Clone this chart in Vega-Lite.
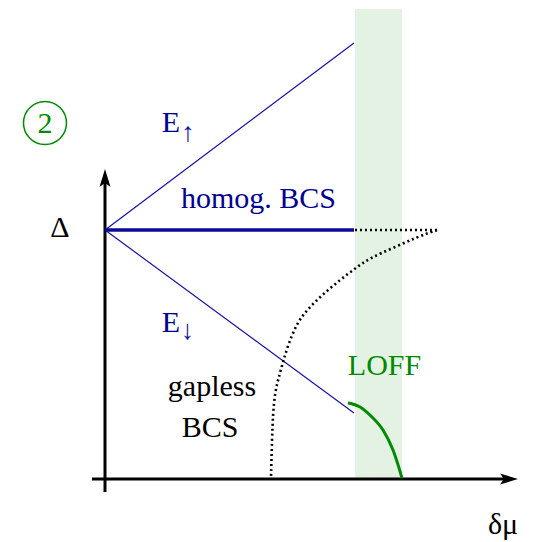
{
  "$schema": "https://vega.github.io/schema/vega-lite/v6.json",
  "width": 536,
  "height": 542,
  "autosize": {"type": "none"},
  "padding": 0,
  "background": "white",
  "config": {"view": {"stroke": null}},
  "datasets": {
    "band": [{"x": 250, "x2": 297, "y": 0, "y2": 470}],
    "lines": [
      {"s": "vaxis", "o": 0, "x": 0, "y": -13},
      {"s": "vaxis", "o": 1, "x": 0, "y": 302},
      {"s": "haxis", "o": 0, "x": -13, "y": 0},
      {"s": "haxis", "o": 1, "x": 405, "y": 0},
      {"s": "eup", "o": 0, "x": 0, "y": 249},
      {"s": "eup", "o": 1, "x": 249, "y": 436},
      {"s": "edn", "o": 0, "x": 0, "y": 249},
      {"s": "edn", "o": 1, "x": 249, "y": 66},
      {"s": "homog", "o": 0, "x": 0, "y": 249},
      {"s": "homog", "o": 1, "x": 249, "y": 249},
      {"s": "dot1", "o": 0, "x": 250, "y": 249},
      {"s": "dot1", "o": 1, "x": 332, "y": 249},
      {"s": "dot2", "o": 0, "x": 332, "y": 249},
      {"s": "dot2", "o": 1, "x": 312, "y": 242},
      {"s": "dot2", "o": 2, "x": 288, "y": 231},
      {"s": "dot2", "o": 3, "x": 265, "y": 221},
      {"s": "dot2", "o": 4, "x": 252, "y": 212},
      {"s": "dot2", "o": 5, "x": 235, "y": 199},
      {"s": "dot2", "o": 6, "x": 217, "y": 184},
      {"s": "dot2", "o": 7, "x": 202, "y": 169},
      {"s": "dot2", "o": 8, "x": 192, "y": 156},
      {"s": "dot2", "o": 9, "x": 183, "y": 134},
      {"s": "dot2", "o": 10, "x": 178, "y": 117},
      {"s": "dot2", "o": 11, "x": 173, "y": 99},
      {"s": "dot2", "o": 12, "x": 170, "y": 86},
      {"s": "dot2", "o": 13, "x": 168, "y": 66},
      {"s": "dot2", "o": 14, "x": 167, "y": 39},
      {"s": "dot2", "o": 15, "x": 166, "y": 2},
      {"s": "loff", "o": 0, "x": 243, "y": 76},
      {"s": "loff", "o": 1, "x": 255, "y": 72},
      {"s": "loff", "o": 2, "x": 268, "y": 61},
      {"s": "loff", "o": 3, "x": 278, "y": 49},
      {"s": "loff", "o": 4, "x": 288, "y": 29},
      {"s": "loff", "o": 5, "x": 297, "y": 1}
    ],
    "arrows": [{"x": 0, "y": 300, "a": 0}, {"x": 403, "y": 0, "a": 90}],
    "circle": [{"x": -60, "y": 356}],
    "greenText": [
      {"t": "2", "x": -60, "y": 346},
      {"t": "LOFF", "x": 279.5, "y": 104}
    ],
    "blueText": [
      {"t": "E", "x": 66, "y": 347},
      {"t": "homog. BCS", "x": 153.5, "y": 271},
      {"t": "E", "x": 66, "y": 147}
    ],
    "blueSub": [
      {"t": "↑", "x": 83, "y": 338},
      {"t": "↓", "x": 82.5, "y": 140}
    ],
    "blackCenter": [
      {"t": "Δ", "x": -45, "y": 242},
      {"t": "gapless", "x": 107, "y": 83},
      {"t": "BCS", "x": 105, "y": 42},
      {"t": "δμ", "x": 398, "y": -55}
    ]
  },
  "encoding": {
    "x": {"field": "x", "type": "quantitative", "scale": {"domain": [-105, 431], "nice": false, "zero": false}, "axis": null},
    "y": {"field": "y", "type": "quantitative", "scale": {"domain": [-63, 479], "nice": false, "zero": false}, "axis": null}
  },
  "layer": [
    {
      "data": {"name": "band"},
      "mark": {"type": "rect", "color": "#e3f2e2"},
      "encoding": {"x2": {"field": "x2"}, "y2": {"field": "y2"}}
    },
    {
      "data": {"name": "lines"},
      "transform": [{"filter": "datum.s === 'vaxis' || datum.s === 'haxis'"}],
      "mark": {"type": "line", "color": "black", "strokeWidth": 3},
      "encoding": {"detail": {"field": "s"}, "order": {"field": "o"}}
    },
    {
      "data": {"name": "lines"},
      "transform": [{"filter": "datum.s === 'eup' || datum.s === 'edn'"}],
      "mark": {"type": "line", "color": "#1414a0", "strokeWidth": 1.2},
      "encoding": {"detail": {"field": "s"}, "order": {"field": "o"}}
    },
    {
      "data": {"name": "lines"},
      "transform": [{"filter": "datum.s === 'homog'"}],
      "mark": {"type": "line", "color": "#0a0a96", "strokeWidth": 3.5},
      "encoding": {"detail": {"field": "s"}, "order": {"field": "o"}}
    },
    {
      "data": {"name": "lines"},
      "transform": [{"filter": "datum.s === 'dot1' || datum.s === 'dot2'"}],
      "mark": {"type": "line", "color": "black", "strokeWidth": 2.6, "strokeDash": [2, 3], "interpolate": "basis"},
      "encoding": {"detail": {"field": "s"}, "order": {"field": "o"}}
    },
    {
      "data": {"name": "lines"},
      "transform": [{"filter": "datum.s === 'loff'"}],
      "mark": {"type": "line", "color": "#008a00", "strokeWidth": 3, "interpolate": "cardinal"},
      "encoding": {"detail": {"field": "s"}, "order": {"field": "o"}}
    },
    {
      "data": {"name": "arrows"},
      "mark": {"type": "point", "shape": "M0,-1L0.55,0.8L0,0.4L-0.55,0.8Z", "filled": true, "color": "black", "size": 400, "opacity": 1},
      "encoding": {"angle": {"field": "a", "type": "quantitative", "scale": null}}
    },
    {
      "data": {"name": "circle"},
      "mark": {"type": "point", "shape": "circle", "filled": false, "stroke": "#008a00", "strokeWidth": 1.5, "size": 1849, "opacity": 1}
    },
    {
      "data": {"name": "greenText"},
      "mark": {"type": "text", "font": "Liberation Serif, Times New Roman, DejaVu Serif, serif", "fontSize": 30, "color": "#008a00", "baseline": "alphabetic", "align": "center"},
      "encoding": {"text": {"field": "t"}}
    },
    {
      "data": {"name": "blueText"},
      "mark": {"type": "text", "font": "Liberation Serif, Times New Roman, DejaVu Serif, serif", "fontSize": 30, "color": "#00008f", "baseline": "alphabetic", "align": "center"},
      "encoding": {"text": {"field": "t"}}
    },
    {
      "data": {"name": "blueSub"},
      "mark": {"type": "text", "font": "Liberation Serif, Times New Roman, DejaVu Serif, serif", "fontSize": 27, "color": "#1414a0", "baseline": "alphabetic", "align": "center"},
      "encoding": {"text": {"field": "t"}}
    },
    {
      "data": {"name": "blackCenter"},
      "mark": {"type": "text", "font": "Liberation Serif, Times New Roman, DejaVu Serif, serif", "fontSize": 30, "color": "black", "baseline": "alphabetic", "align": "center"},
      "encoding": {"text": {"field": "t"}}
    }
  ]
}
